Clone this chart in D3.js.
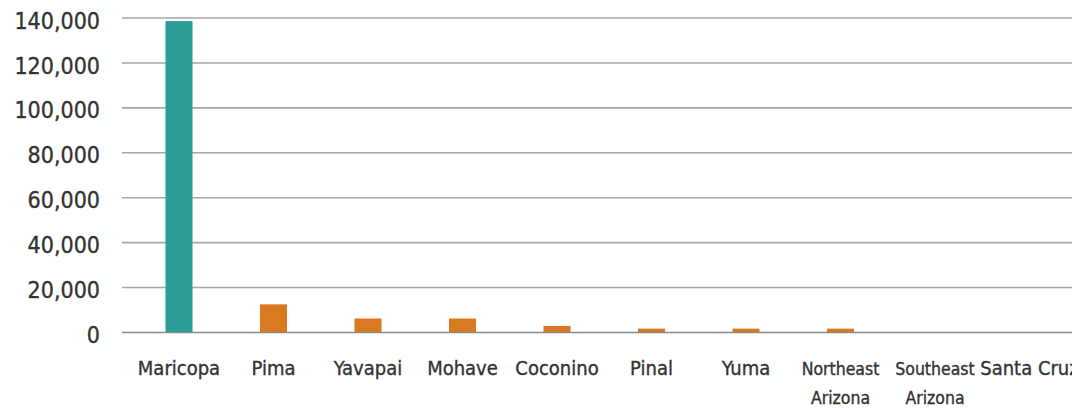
<!DOCTYPE html>
<html>
<head>
<meta charset="utf-8">
<script src="https://cdn.jsdelivr.net/npm/d3@7"></script>
<style>
  body { margin: 0; background: #fff; }
  text { font-family: "DejaVu Sans Condensed", "DejaVu Sans", sans-serif; fill: #333; stroke: #333; stroke-width: 0.35px; }
</style>
</head>
<body>
<svg id="chart" width="1072" height="409"></svg>
<script>
var counties = ["Maricopa", "Pima", "Yavapai", "Mohave", "Coconino", "Pinal", "Yuma", "Northeast Arizona", "Southeast Arizona", "Santa Cruz"];
var labelLines = [["Maricopa"], ["Pima"], ["Yavapai"], ["Mohave"], ["Coconino"], ["Pinal"], ["Yuma"], ["Northeast", "Arizona"], ["Southeast", "Arizona"], ["Santa Cruz"]];
var values = [138400, 12300, 6000, 6000, 2700, 1500, 1500, 1500, 0, 0];
var yTicks = [0, 20000, 40000, 60000, 80000, 100000, 120000, 140000];

var svg = d3.select("#chart");

var x = d3.scaleBand()
  .domain(counties)
  .range([131.75, 1076.75])
  .paddingInner(0.714)
  .paddingOuter(0.357);

var y = d3.scaleLinear()
  .domain([0, 140000])
  .range([332, 17.5]);

// gridlines + tick labels
var yAxis = svg.append("g")
  .attr("transform", "translate(122,0)")
  .call(d3.axisLeft(y)
    .tickValues(yTicks)
    .tickSize(-960)
    .tickPadding(22)
    .tickFormat(d3.format(",")));

yAxis.select(".domain").remove();
yAxis.selectAll(".tick line")
  .attr("stroke", function (d) { return d === 0 ? "#8a8a8a" : "#a6a6a6"; })
  .attr("stroke-width", 1.6);
yAxis.selectAll(".tick text")
  .attr("font-size", 23)
  .attr("dy", "0.46em")
  .attr("fill", "#333")
  .style("font-family", "'DejaVu Sans Condensed', sans-serif");

// bars
svg.append("g")
  .selectAll("rect")
  .data(values)
  .join("rect")
  .attr("x", function (d, i) { return x(counties[i]); })
  .attr("width", x.bandwidth())
  .attr("y", function (d) { return y(d); })
  .attr("height", function (d) { return y(0) - y(d); })
  .attr("fill", function (d, i) { return i === 0 ? "#2a9d96" : "#d97a22"; });

// category labels
var labels = svg.append("g")
  .selectAll("text")
  .data(labelLines)
  .join("text")
  .attr("text-anchor", "middle")
  .attr("x", function (d, i) { return x(counties[i]) + x.bandwidth() / 2; })
  .attr("y", y(0) + 43)
  .attr("font-size", function (d) { return d.length > 1 ? 17.5 : 20; });

labels.selectAll("tspan")
  .data(function (d, i) { return d.map(function (t) { return { t: t, i: i }; }); })
  .join("tspan")
  .attr("x", function (d) { return x(counties[d.i]) + x.bandwidth() / 2; })
  .attr("dy", function (d, j) { return j === 0 ? 0 : 29; })
  .text(function (d) { return d.t; });
</script>
</body>
</html>
